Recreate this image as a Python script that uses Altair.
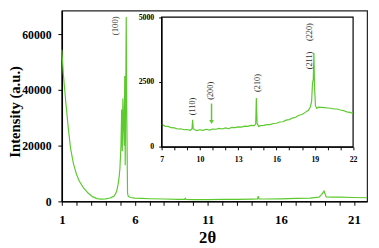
import altair as alt
import pandas as pd

# ---------------- data ----------------
main_x = [1.0, 1.1, 1.2, 1.3, 1.45, 1.6, 1.8, 2.0, 2.2, 2.5, 2.8, 3.1, 3.4, 3.7, 4.0,
          4.3, 4.5, 4.6, 4.75, 4.85, 4.92, 4.98, 5.05, 5.10, 5.14, 5.18, 5.22, 5.27,
          5.31, 5.34, 5.38, 5.41, 5.45, 5.50, 5.55, 5.7, 6.0, 6.5, 7.0, 8.0, 9.0,
          9.4, 9.45, 9.5, 10.0, 11.0, 12.0, 13.0, 14.0, 14.4, 14.45, 14.5, 15.0,
          16.0, 17.0, 18.0, 18.6, 18.8, 18.95, 19.1, 19.5, 20.0, 21.0, 21.9]
main_y = [54500, 46000, 40000, 34000, 26000, 19000, 13500, 9800, 7200, 4800, 3000,
          1700, 1000, 800, 900, 1200, 1700, 2000, 3500, 6000, 8500, 12000, 20000,
          33000, 18000, 37000, 30000, 20000, 45000, 13000, 40000, 66200, 30000,
          3000, 1800, 1400, 1200, 1050, 950, 850, 700, 700, 1100, 700, 650, 650,
          700, 750, 800, 850, 1900, 850, 850, 900, 1050, 1200, 1500, 2500, 3700,
          1600, 1500, 1500, 1400, 1300]

inset_x = [7.0, 7.25, 7.5, 7.75, 8.0, 8.25, 8.5, 8.75, 9.0, 9.25, 9.38, 9.43, 9.48,
           9.75, 10.0, 10.25, 10.5, 10.75, 11.0, 11.25, 11.5, 11.75, 12.0, 12.25,
           12.5, 12.75, 13.0, 13.25, 13.5, 13.75, 14.0, 14.25, 14.37, 14.42, 14.48,
           14.6, 14.75, 15.0, 15.25, 15.5, 15.75, 16.0, 16.25, 16.5, 16.75, 17.0,
           17.25, 17.5, 17.75, 18.0, 18.25, 18.5, 18.65, 18.75, 18.82, 18.88, 18.93,
           18.98, 19.05, 19.15, 19.3, 19.5, 19.75, 20.0, 20.25, 20.5, 20.75, 21.0,
           21.25, 21.5, 21.75, 22.0]
inset_y = [870, 800, 790, 740, 730, 690, 700, 660, 670, 640, 700, 1040, 690, 630,
           660, 640, 680, 650, 690, 680, 710, 690, 730, 700, 750, 740, 770, 760,
           800, 790, 830, 820, 880, 1880, 900, 790, 820, 830, 860, 860, 900, 910,
           960, 970, 1030, 1050, 1110, 1140, 1220, 1250, 1330, 1410, 1540, 1750,
           2450, 2600, 3620, 2300, 1600, 1480, 1530, 1520, 1510, 1500, 1490, 1460,
           1460, 1420, 1400, 1350, 1330, 1290]

main_labels = ["(100)"]
main_label_x = [4.67]
main_label_y = [63100]

inset_labels = ["(110)", "(200)", "(210)", "(211)", "(220)"]
inset_label_x = [9.35, 10.83, 14.46, 18.55, 18.55]
inset_label_y = [1557, 2161, 2462, 3330, 4423]

arrow_x = [10.91]
arrow_top = [1670]
arrow_bottom = [960]

main_tick_values = list(range(1, 22))
main_y_ticks = [0, 20000, 40000, 60000]
inset_tick_values = list(range(7, 23))
inset_y_ticks = [0, 2500, 5000]

# ---------------- styling ----------------
GREEN = "#5cc92e"
FONT = "Liberation Serif"
W, H = 312, 195

main_df = pd.DataFrame({"x": main_x, "y": main_y})
inset_df = pd.DataFrame({"x": inset_x, "y": inset_y})
main_lab_df = pd.DataFrame({"x": main_label_x, "y": main_label_y, "t": main_labels})
inset_lab_df = pd.DataFrame({"x": inset_label_x, "y": inset_label_y, "t": inset_labels})
arrow_df = pd.DataFrame({"x": arrow_x, "y": arrow_top, "y2": arrow_bottom})
frame_df = pd.DataFrame({"x": [7], "x2": [22], "y": [0], "y2": [5000]})

mx = alt.Scale(domain=[1, 21.9], nice=False, zero=False)
my = alt.Scale(domain=[0, 68540], nice=False)
ix = alt.Scale(domain=[7, 22], nice=False, zero=False, range=[102, 297.7])
iy = alt.Scale(domain=[0, 5000], nice=False, range=[139.3, 6.7])

main_x_axis = alt.Axis(
    values=main_tick_values,
    labelExpr="(datum.value - 1) % 5 === 0 ? datum.label : ''",
    title="2θ", titleX=148.5, titleY=42, titleBaseline="alphabetic",
    titleAlign="center", titleFontSize=17, titleFontWeight="bold",
    labelFontSize=13, labelFontWeight="bold", labelPadding=9, tickSize=4,
    domainWidth=1.5, labelFlush=False)
main_y_axis = alt.Axis(
    values=main_y_ticks, format="d",
    title="Intensity (a.u.)", titleX=-43, titleY=103, titleAngle=270,
    titleBaseline="alphabetic", titleAlign="center", titleFontSize=15,
    titleFontWeight="bold", labelFontSize=12, labelFontWeight="bold",
    labelPadding=7, tickSize=4, domainWidth=1.5, labelFlush=False)
inset_x_axis = alt.Axis(
    orient="bottom", offset=-55.7, values=inset_tick_values,
    labelExpr="(datum.value - 7) % 3 === 0 ? datum.label : ''",
    title=None, labelFontSize=8, labelFontWeight="bold", labelPadding=6,
    tickSize=3, domainWidth=1, labelFlush=False, zindex=2)
inset_y_axis = alt.Axis(
    orient="left", offset=-102, values=inset_y_ticks, format="d",
    title=None, labelFontSize=8, labelFontWeight="bold", labelPadding=5,
    tickSize=3, domainWidth=1, labelFlush=False, zindex=2)


def MX(field="x"):
    return alt.X(f"{field}:Q", scale=mx, axis=main_x_axis)


def MY(field="y"):
    return alt.Y(f"{field}:Q", scale=my, axis=main_y_axis)


def IX(field="x"):
    return alt.X(f"{field}:Q", scale=ix, axis=inset_x_axis)


def IY(field="y"):
    return alt.Y(f"{field}:Q", scale=iy, axis=inset_y_axis)


main_line = alt.Chart(main_df).mark_line(color=GREEN, strokeWidth=1.2).encode(
    x=MX(), y=MY())

main_text = alt.Chart(main_lab_df).mark_text(
    angle=270, font=FONT, fontSize=9, color="#333333", align="center", baseline="middle"
).encode(x=MX(), y=MY(), text="t:N")

main_group = alt.layer(main_line, main_text)

frame = alt.Chart(frame_df).mark_rect(fill="white", stroke="black", strokeWidth=1.2).encode(
    x=IX(), x2="x2:Q", y=IY(), y2="y2:Q")

inset_line = alt.Chart(inset_df).mark_line(color=GREEN, strokeWidth=1.2).encode(
    x=IX(), y=IY())

inset_text = alt.Chart(inset_lab_df).mark_text(
    angle=270, font=FONT, fontSize=8.5, color="#333333", align="center", baseline="middle"
).encode(x=IX(), y=IY(), text="t:N")

arrow_rule = alt.Chart(arrow_df).mark_rule(color=GREEN, strokeWidth=1.5).encode(
    x=IX(), y=IY(), y2="y2:Q")

arrow_head = alt.Chart(arrow_df).mark_point(
    shape="triangle-down", filled=True, color=GREEN, size=22, opacity=1
).encode(x=IX(), y=IY("y2"))

inset_group = alt.layer(frame, inset_line, inset_text, arrow_rule, arrow_head)

chart = alt.layer(main_group, inset_group).resolve_scale(
    x="independent", y="independent"
).resolve_axis(
    x="independent", y="independent"
).properties(
    width=W, height=H,
    padding={"left": 55, "top": 0, "right": 4, "bottom": 45},
    autosize=alt.AutoSizeParams(type="none"),
).configure_view(
    stroke="#222222", strokeWidth=1.2
).configure_axis(
    grid=False, domainColor="black", tickColor="black", labelColor="black",
    titleColor="black", labelFont=FONT, titleFont=FONT,
)

chart.save("out.html", embed_options={"renderer": "svg", "actions": False})
